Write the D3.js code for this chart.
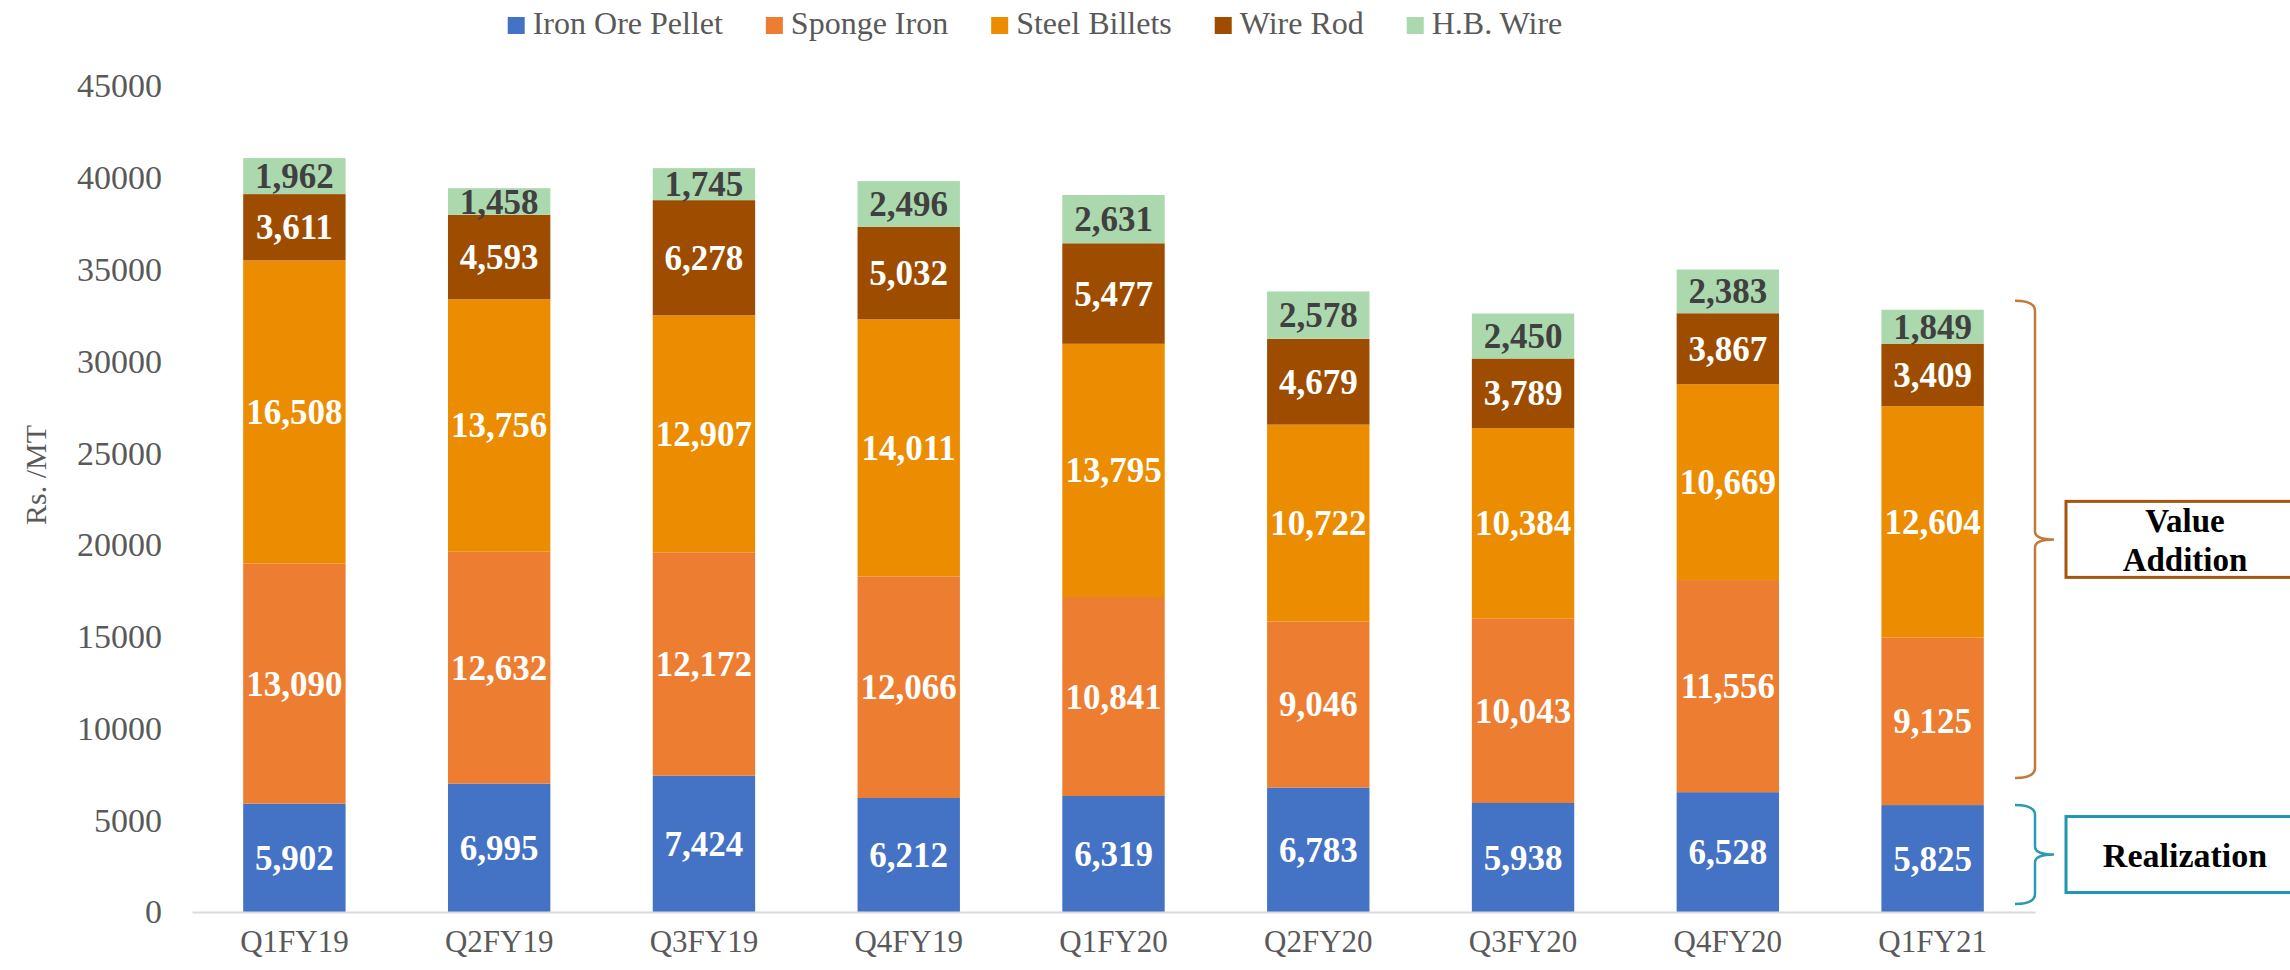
<!DOCTYPE html>
<html>
<head>
<meta charset="utf-8">
<script src="https://cdn.jsdelivr.net/npm/d3@7/dist/d3.min.js"></script>
<style>
  body { margin: 0; background: #fff; }
  text { font-family: "Liberation Serif", "Times New Roman", serif; }
</style>
</head>
<body>
<div id="chart"></div>
<script>
// chart data
const quarters = ["Q1FY19", "Q2FY19", "Q3FY19", "Q4FY19", "Q1FY20", "Q2FY20", "Q3FY20", "Q4FY20", "Q1FY21"];
const seriesNames = ["Iron Ore Pellet", "Sponge Iron", "Steel Billets", "Wire Rod", "H.B. Wire"];
const ironOrePellet = [5902, 6995, 7424, 6212, 6319, 6783, 5938, 6528, 5825];
const spongeIron = [13090, 12632, 12172, 12066, 10841, 9046, 10043, 11556, 9125];
const steelBillets = [16508, 13756, 12907, 14011, 13795, 10722, 10384, 10669, 12604];
const wireRod = [3611, 4593, 6278, 5032, 5477, 4679, 3789, 3867, 3409];
const hbWire = [1962, 1458, 1745, 2496, 2631, 2578, 2450, 2383, 1849];
const yTicks = [0, 5000, 10000, 15000, 20000, 25000, 30000, 35000, 40000, 45000];
// bracket annotations, in Rs./MT
const valueAdditionRange = [7300, 33300];
const realizationRange = [430, 5830];

const width = 2290, height = 970;
const colors = ["#4472c4", "#ed7d31", "#ec8c00", "#9e4d00", "#acd8ae"];

let svg = d3.select("#chart")
    .append("svg")
    .attr("width", width)
    .attr("height", height);

let table = quarters.map(function(q, i) {
    return {
        quarter: q,
        "Iron Ore Pellet": ironOrePellet[i],
        "Sponge Iron": spongeIron[i],
        "Steel Billets": steelBillets[i],
        "Wire Rod": wireRod[i],
        "H.B. Wire": hbWire[i]
    };
});

let stacked = d3.stack().keys(seriesNames)(table);

let x = d3.scaleBand()
    .domain(quarters)
    .range([192, 2035])
    .paddingInner(0.5)
    .paddingOuter(0.25);

let y = d3.scaleLinear()
    .domain([0, 45000])
    .range([912, 86]);

let color = d3.scaleOrdinal().domain(seriesNames).range(colors);

// y tick labels (no axis line, no grid)
let yAxis = svg.append("g")
    .attr("transform", "translate(162,0)")
    .call(d3.axisLeft(y).tickValues(yTicks).tickSize(0).tickPadding(0).tickFormat(d3.format("d")));
yAxis.select(".domain").remove();
yAxis.selectAll("text")
    .style("font-family", "Liberation Serif")
    .style("font-size", "34px")
    .attr("fill", "#595959");

svg.append("text")
    .attr("transform", "translate(46, 475) rotate(-90)")
    .style("text-anchor", "middle")
    .style("font-size", "30px")
    .attr("fill", "#595959")
    .text("Rs. /MT");

// bars
let layers = svg.selectAll("g.layer")
    .data(stacked)
    .enter()
    .append("g")
    .attr("class", "layer")
    .attr("fill", function(d) { return color(d.key); });

layers.selectAll("rect")
    .data(function(d) { return d; })
    .enter()
    .append("rect")
    .attr("x", function(d) { return x(d.data.quarter); })
    .attr("y", function(d) { return y(d[1]); })
    .attr("width", x.bandwidth())
    .attr("height", function(d) { return y(d[0]) - y(d[1]); });

// value labels
let fmt = d3.format(",");
layers.each(function(layer) {
    d3.select(this).selectAll("text")
        .data(layer)
        .enter()
        .append("text")
        .attr("x", function(d) { return x(d.data.quarter) + x.bandwidth() / 2; })
        .attr("y", function(d) { return (y(d[0]) + y(d[1])) / 2 + 12; })
        .style("text-anchor", "middle")
        .style("font-size", "35px")
        .style("font-weight", "bold")
        .attr("fill", layer.key == "H.B. Wire" ? "#404040" : "#ffffff")
        .text(function(d) { return fmt(d[1] - d[0]); });
});

// x axis
let xAxis = svg.append("g")
    .attr("transform", "translate(0,912)")
    .call(d3.axisBottom(x).tickSize(0).tickPadding(0));
xAxis.select(".domain").attr("stroke", "#d9d9d9").attr("stroke-width", 2);
xAxis.selectAll("text")
    .attr("dy", null)
    .attr("y", 40)
    .style("font-family", "Liberation Serif")
    .style("font-size", "31px")
    .attr("fill", "#595959");

// legend
let legend = svg.append("g");
let lx = 0;
seriesNames.forEach(function(name) {
    let item = legend.append("g").attr("transform", `translate(${lx},0)`);
    item.append("rect")
        .attr("x", 0).attr("y", 17)
        .attr("width", 17).attr("height", 17)
        .attr("fill", color(name));
    let t = item.append("text")
        .attr("x", 25).attr("y", 34)
        .style("font-size", "32px")
        .attr("fill", "#595959")
        .text(name);
    lx += 25 + t.node().getComputedTextLength() + 43;
});
legend.attr("transform", `translate(${1035 - (lx - 43) / 2},0)`);

// brackets on the right
function bracket(range, stroke) {
    let top = y(range[1]), bottom = y(range[0]), mid = (top + bottom) / 2;
    let xl = 2015, xv = 2035, xt = 2054;
    svg.append("path")
        .attr("d", `M${xl},${top} Q${xv},${top} ${xv},${top + 10} L${xv},${mid - 8} Q${xv},${mid} ${xt},${mid}` +
                   ` Q${xv},${mid} ${xv},${mid + 8} L${xv},${bottom - 10} Q${xv},${bottom} ${xl},${bottom}`)
        .attr("fill", "none")
        .attr("stroke", stroke)
        .attr("stroke-width", 2.5);
    return mid;
}

let vaMid = bracket(valueAdditionRange, "#c07a3c");
svg.append("rect")
    .attr("x", 2066).attr("y", vaMid - 38)
    .attr("width", 240).attr("height", 76)
    .attr("fill", "#fff")
    .attr("stroke", "#a5570f")
    .attr("stroke-width", 3);
svg.append("text")
    .attr("x", 2185).attr("y", vaMid - 7)
    .style("text-anchor", "middle")
    .style("font-size", "33px")
    .style("font-weight", "bold")
    .text("Value");
svg.append("text")
    .attr("x", 2185).attr("y", vaMid + 32)
    .style("text-anchor", "middle")
    .style("font-size", "33px")
    .style("font-weight", "bold")
    .text("Addition");

let reMid = bracket(realizationRange, "#2a9bb4");
svg.append("rect")
    .attr("x", 2066).attr("y", reMid - 38)
    .attr("width", 240).attr("height", 76)
    .attr("fill", "#fff")
    .attr("stroke", "#2196b0")
    .attr("stroke-width", 3);
svg.append("text")
    .attr("x", 2185).attr("y", reMid + 12)
    .style("text-anchor", "middle")
    .style("font-size", "34px")
    .style("font-weight", "bold")
    .text("Realization");
</script>
</body>
</html>
